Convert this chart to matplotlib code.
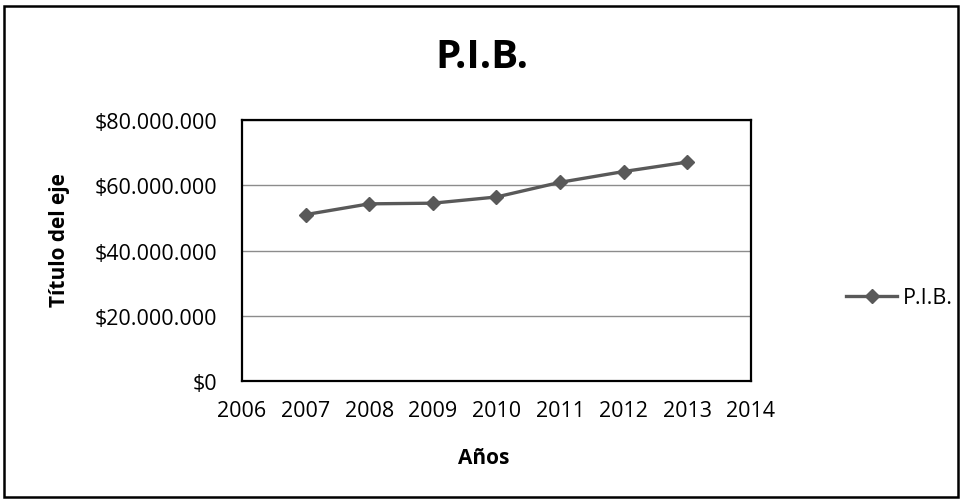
import matplotlib.pyplot as plt
from matplotlib.patches import Rectangle
from matplotlib.ticker import FuncFormatter

# Datos
anios = [2007, 2008, 2009, 2010, 2011, 2012, 2013]
pib = [51_000_000, 54_300_000, 54_500_000, 56_400_000, 60_900_000, 64_200_000, 67_100_000]
y_ticks = [0, 20_000_000, 40_000_000, 60_000_000, 80_000_000]
x_ticks = list(range(2006, 2015))

plt.rcParams['font.family'] = ['Open Sans', 'DejaVu Sans']

fig = plt.figure(figsize=(9.64, 5.02), dpi=100)
ax = fig.add_axes([0.251, 0.239, 0.528, 0.520])

# Borde exterior del gráfico
fig.patches.append(Rectangle((0.004, 0.008), 0.990, 0.978, transform=fig.transFigure,
                             fill=False, edgecolor='black', linewidth=1.8))

ax.plot(anios, pib, color='#595959', linewidth=2.4, marker='D', markersize=7.5,
        label='P.I.B.')

def formato_peso(v, pos):
    if v == 0:
        return '$0'
    return '$' + f'{int(v):,}'.replace(',', '.')

ax.set_xlim(2006, 2014)
ax.set_ylim(0, 80_000_000)
ax.set_xticks(x_ticks)
ax.set_yticks(y_ticks)
ax.yaxis.set_major_formatter(FuncFormatter(formato_peso))
ax.tick_params(axis='y', length=0, labelsize=15.5, pad=18)
ax.tick_params(axis='x', length=0, labelsize=15.5, pad=14)
ax.grid(axis='y', color='#8c8c8c', linewidth=1)
ax.set_axisbelow(True)
for s in ax.spines.values():
    s.set_linewidth(1.6)
    s.set_color('black')

fig.text(0.5, 1 - 58 / 502, 'P.I.B.', fontsize=29, fontweight='bold', ha='center', va='center')
fig.text(484 / 964, 1 - 459 / 502, 'Años', fontsize=15, fontweight='bold', ha='center', va='center')
fig.text(59 / 964, 1 - 240 / 502, 'Título del eje', fontsize=15, fontweight='bold',
         ha='center', va='center', rotation=90)

ax.legend(loc='center left', bbox_to_anchor=(835 / 964, 1 - 299 / 502),
          bbox_transform=fig.transFigure, frameon=False, fontsize=15.5, borderpad=0,
          handlelength=2.4, handletextpad=0.25)

fig.savefig('out.png', dpi=100)
